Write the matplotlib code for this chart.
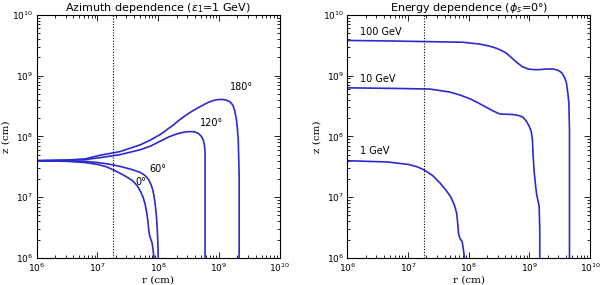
import numpy as np
import matplotlib
matplotlib.use("Agg")
import matplotlib.pyplot as plt
from matplotlib.ticker import LogLocator, FixedLocator, FuncFormatter

# ---- data (log10 r, log10 z) ----
az0_logr  = [6.0, 6.5, 6.8, 7.0, 7.15, 7.26, 7.40, 7.52, 7.59, 7.66, 7.71, 7.75, 7.78, 7.81, 7.83, 7.845, 7.86, 7.88, 7.90, 7.915, 7.93]
az0_logz  = [7.60, 7.59, 7.57, 7.54, 7.50, 7.45, 7.38, 7.31, 7.26, 7.18, 7.09, 7.00, 6.90, 6.75, 6.60, 6.45, 6.36, 6.30, 6.24, 6.13, 6.0]
az60_logr = [6.0, 6.5, 6.8, 7.0, 7.15, 7.26, 7.40, 7.55, 7.70, 7.78, 7.84, 7.88, 7.91, 7.93, 7.95, 7.97, 7.985, 7.995, 8.0]
az60_logz = [7.60, 7.60, 7.59, 7.57, 7.55, 7.53, 7.50, 7.46, 7.41, 7.36, 7.29, 7.21, 7.12, 7.02, 6.88, 6.68, 6.45, 6.20, 6.0]
az120_logr = [6.0, 6.5, 6.8, 7.04, 7.37, 7.70, 7.87, 8.03, 8.17, 8.30, 8.42, 8.52, 8.60, 8.66, 8.71, 8.74, 8.76, 8.77, 8.77, 8.77]
az120_logz = [7.60, 7.61, 7.62, 7.65, 7.70, 7.78, 7.84, 7.92, 7.99, 8.04, 8.07, 8.08, 8.075, 8.05, 8.00, 7.94, 7.85, 7.75, 7.37, 6.0]
az180_logr = [6.0, 6.5, 6.8, 7.04, 7.37, 7.70, 7.87, 8.03, 8.14, 8.25, 8.36, 8.47, 8.58, 8.69, 8.80, 8.90, 8.97, 9.04, 9.11, 9.18, 9.23, 9.26, 9.285, 9.30, 9.315, 9.32, 9.33, 9.33]
az180_logz = [7.60, 7.61, 7.63, 7.69, 7.75, 7.86, 7.94, 8.03, 8.11, 8.19, 8.28, 8.36, 8.43, 8.49, 8.55, 8.59, 8.605, 8.61, 8.60, 8.57, 8.51, 8.41, 8.28, 8.14, 7.95, 7.75, 7.37, 6.0]

e1_logr   = [6.0, 6.65, 7.0, 7.15, 7.26, 7.40, 7.53, 7.62, 7.70, 7.76, 7.80, 7.82, 7.83, 7.845, 7.86, 7.89, 7.91, 7.93]
e1_logz   = [7.60, 7.58, 7.54, 7.50, 7.45, 7.36, 7.23, 7.12, 7.01, 6.88, 6.74, 6.55, 6.41, 6.35, 6.31, 6.27, 6.15, 6.0]
e10_logr  = [6.0, 6.8, 7.36, 7.69, 7.86, 8.02, 8.16, 8.29, 8.40, 8.51, 8.62, 8.73, 8.82, 8.89, 8.95, 9.00, 9.03, 9.05, 9.06, 9.08, 9.10, 9.12, 9.14, 9.16, 9.17, 9.17]
e10_logz  = [8.80, 8.79, 8.78, 8.73, 8.68, 8.62, 8.55, 8.48, 8.42, 8.37, 8.365, 8.36, 8.345, 8.32, 8.25, 8.16, 8.08, 7.94, 7.70, 7.40, 7.20, 7.04, 6.95, 6.85, 6.5, 6.0]
e100_logr = [6.0, 6.8, 7.36, 7.91, 8.18, 8.33, 8.46, 8.55, 8.62, 8.70, 8.79, 8.88, 8.98, 9.07, 9.17, 9.28, 9.39, 9.47, 9.53, 9.58, 9.61, 9.635, 9.65, 9.66, 9.66, 9.66]
e100_logz = [9.58, 9.57, 9.56, 9.55, 9.52, 9.49, 9.45, 9.41, 9.37, 9.30, 9.22, 9.15, 9.11, 9.10, 9.10, 9.11, 9.11, 9.09, 9.05, 8.97, 8.88, 8.70, 8.55, 8.11, 7.0, 6.0]

xtick_exps = [6, 7, 8, 9, 10]
ytick_exps = [6, 7, 8, 9, 10]
vline_r = 1.8e7

left_curves = [(az0_logr, az0_logz), (az60_logr, az60_logz), (az120_logr, az120_logz), (az180_logr, az180_logz)]
left_labels = [("0°", 7.62, 7.25), ("60°", 7.86, 7.47), ("120°", 8.69, 8.22), ("180°", 9.18, 8.82)]
right_curves = [(e1_logr, e1_logz), (e10_logr, e10_logz), (e100_logr, e100_logz)]
right_labels = [("1 GeV", 6.21, 7.76), ("10 GeV", 6.21, 8.95), ("100 GeV", 6.21, 9.72)]

blue = "#2a2ad0"

fig = plt.figure(figsize=(6.0, 2.85), dpi=100)
positions = [[0.061, 0.095, 0.4055, 0.8526], [0.579, 0.095, 0.4045, 0.8526]]
titles = [r"Azimuth dependence ($\epsilon_1$=1 GeV)", r"Energy dependence ($\phi_s$=0°)"]

def fmt(v, pos):
    return r"$10^{%d}$" % int(round(np.log10(v)))

for i, (pos, title) in enumerate(zip(positions, titles)):
    ax = fig.add_axes(pos)
    ax.set_xscale("log")
    ax.set_yscale("log")
    ax.set_xlim(1e6, 1e10)
    ax.set_ylim(1e6, 1e10)
    curves = left_curves if i == 0 else right_curves
    labels = left_labels if i == 0 else right_labels
    for lr, lz in curves:
        ax.plot(10**np.array(lr), 10**np.array(lz), color=blue, lw=1.2, solid_joinstyle="round")
    for txt, x, y in labels:
        ax.text(10**x, 10**y, txt, fontsize=7, color="black", ha="left", va="center")
    ax.axvline(vline_r, color="black", lw=0.8, ls=(0, (1, 1.5)))
    ax.xaxis.set_major_locator(FixedLocator([10.0**e for e in xtick_exps]))
    ax.yaxis.set_major_locator(FixedLocator([10.0**e for e in ytick_exps]))
    ax.xaxis.set_minor_locator(LogLocator(base=10, subs=np.arange(2, 10), numticks=20))
    ax.yaxis.set_minor_locator(LogLocator(base=10, subs=np.arange(2, 10), numticks=20))
    ax.xaxis.set_major_formatter(FuncFormatter(fmt))
    ax.yaxis.set_major_formatter(FuncFormatter(fmt))
    ax.tick_params(which="both", direction="in", top=True, right=True, labelsize=6.5, width=0.6)
    ax.tick_params(which="major", length=4.5, pad=2.5)
    ax.tick_params(which="minor", length=2.2)
    for s in ax.spines.values():
        s.set_linewidth(0.8)
    ax.set_xlabel("r (cm)", fontsize=7.5, family="serif", labelpad=1)
    ax.set_ylabel("z (cm)", fontsize=7.5, family="serif", labelpad=1)
    ax.set_title(title, fontsize=8, pad=3)

fig.savefig("out.png", dpi=100)
